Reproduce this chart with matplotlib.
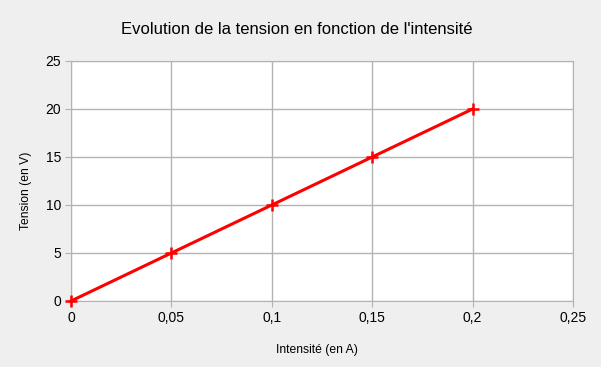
import matplotlib.pyplot as plt
import numpy as np

# Data
intensite = [0, 0.05, 0.1, 0.15, 0.2]   # X axis (A)
tension = [0, 5, 10, 15, 20]           # Y axis (V)
x_ticks = [0, 0.05, 0.1, 0.15, 0.2, 0.25]
x_labels = ["0", "0,05", "0,1", "0,15", "0,2", "0,25"]
y_ticks = [0, 5, 10, 15, 20, 25]

plt.rcParams['font.family'] = ['Liberation Sans', 'DejaVu Sans']

fig = plt.figure(figsize=(6.01, 3.67), dpi=100)
fig.patch.set_facecolor("#efefef")
ax = fig.add_axes([71 / 601, 1 - 301 / 367, 502 / 601, 240 / 367])
ax.set_facecolor("white")

ax.plot(intensite, tension, marker="+", linestyle="-", color="#ff0000",
        linewidth=2.2, markersize=8, markeredgewidth=1.8, clip_on=False, zorder=3)

ax.set_xlim(0, 0.25)
ax.set_ylim(0, 25)
ax.set_xticks(x_ticks)
ax.set_xticklabels(x_labels)
ax.set_yticks(y_ticks)
ax.grid(True, color="#b3b3b3", linewidth=1)
ax.set_axisbelow(True)
for s in ax.spines.values():
    s.set_color("#b3b3b3")
ax.tick_params(length=4, color="#b3b3b3", labelsize=10, pad=3)

# Title centred on the figure, like the office chart
fig.text(297 / 601, 1 - 30 / 367, "Evolution de la tension en fonction de l'intensité",
         fontsize=12, ha="center", va="center")
ax.set_xlabel("Intensité (en A)", fontsize=8.7)
ax.set_ylabel("Tension (en V)", fontsize=8.7)
ax.xaxis.set_label_coords(0.49, -0.18)
ax.yaxis.set_label_coords(-0.078, 0.458)

plt.savefig("out.png", dpi=100, facecolor=fig.get_facecolor())
